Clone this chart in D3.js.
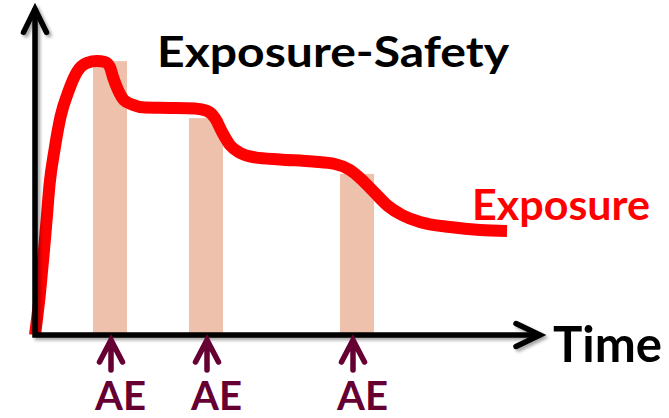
<!DOCTYPE html>
<html>
<head>
<meta charset="utf-8">
<script src="https://cdn.jsdelivr.net/npm/d3@7"></script>
<style>
  html, body { margin: 0; padding: 0; background: #fff; }
  svg { display: block; }
  text { font-family: Lato, "Open Sans", "DejaVu Sans", sans-serif; font-weight: 700; }
</style>
</head>
<body>
<div id="chart"></div>
<script>
// Exposure profile over time (time units, exposure in % of peak scale)
const exposureTime  = [0, 1, 1.8, 2.4, 2.9, 3.9, 5.1, 6.8, 8.4, 10.4, 12.4, 14, 15, 15.6, 16.6, 17.8, 19.6, 22, 27, 32, 34.4, 36, 37.4, 39, 41, 44, 49, 55.6, 60, 63, 65.4, 68, 70.6, 73.4, 77, 83, 89, 94.4];
const exposureLevel = [0, 14, 28.3, 40, 50, 61.7, 72.7, 81.7, 87.7, 90.7, 91.3, 91, 89.3, 86, 81.7, 78.3, 76.7, 75.8, 75.7, 75.5, 74.7, 72.3, 67.7, 63.3, 60.7, 59.2, 58.5, 57.8, 57, 55, 51.7, 47.3, 43, 40, 37.7, 36, 35, 34.7];

// Exposure windows around each adverse event
const windowStart  = [11.6, 30.8, 61];
const windowEnd    = [18.4, 37.6, 67.8];
const windowHeight = [91.3, 72.3, 53.7];

// Adverse event times
const aeTimes  = [15.2, 34.4, 63.6];
const aeLabels = ["AE", "AE", "AE"];

// Axis extents (arrow tips)
const xAxisEnd = 101;
const yAxisEnd = 108.7;

const W = 669, H = 418;

const x = d3.scaleLinear().domain([0, 100]).range([35, 535]);
const y = d3.scaleLinear().domain([0, 100]).range([335, 35]);

const svg = d3.select("#chart").append("svg")
  .attr("width", W).attr("height", H)
  .attr("viewBox", `0 0 ${W} ${H}`);

const defs = svg.append("defs");
const shadow = defs.append("filter").attr("id", "axisShadow")
  .attr("x", "-20%").attr("y", "-20%").attr("width", "140%").attr("height", "140%");
shadow.append("feDropShadow")
  .attr("dx", 2.5).attr("dy", 2.5).attr("stdDeviation", 1.6)
  .attr("flood-color", "#000").attr("flood-opacity", 0.35);

// Exposure windows
svg.append("g").selectAll("rect")
  .data(windowStart.map((s, i) => ({ s, e: windowEnd[i], h: windowHeight[i] })))
  .join("rect")
  .attr("x", d => x(d.s))
  .attr("width", d => x(d.e) - x(d.s))
  .attr("y", d => y(d.h))
  .attr("height", d => y(0) - y(d.h))
  .attr("fill", "#EEC1AD");

// Exposure curve
const line = d3.line()
  .x(d => x(d[0]))
  .y(d => y(d[1]))
  .curve(d3.curveMonotoneX);

svg.append("path")
  .datum(exposureTime.map((t, i) => [t, exposureLevel[i]]))
  .attr("d", line)
  .attr("fill", "none")
  .attr("stroke", "#FF0000")
  .attr("stroke-width", 12)
  .attr("stroke-linecap", "butt")
  .attr("stroke-linejoin", "round");

// Axes with arrow heads
const axes = svg.append("g")
  .attr("filter", "url(#axisShadow)")
  .attr("stroke", "#000")
  .attr("fill", "none")
  .attr("stroke-width", 5.5);

const x0 = x(0), y0 = y(0);
const xTip = x(xAxisEnd), yTip = y(yAxisEnd);

axes.append("path")
  .attr("d", `M${x0},${yTip + 2} L${x0},${y0} L${xTip - 2},${y0}`)
  .attr("stroke-linecap", "square")
  .attr("stroke-linejoin", "miter");

axes.append("path")
  .attr("d", `M${x0 - 11.5},${yTip + 23.5} L${x0},${yTip} L${x0 + 11.5},${yTip + 23.5}`)
  .attr("stroke-linecap", "round")
  .attr("stroke-linejoin", "miter");

axes.append("path")
  .attr("d", `M${xTip - 24},${y0 - 11.5} L${xTip},${y0} L${xTip - 24},${y0 + 11.5}`)
  .attr("stroke-linecap", "round")
  .attr("stroke-linejoin", "miter");

// Adverse event markers
const ae = svg.append("g").selectAll("g")
  .data(aeTimes.map((t, i) => ({ t, label: aeLabels[i] })))
  .join("g");

ae.append("path")
  .attr("d", d => {
    const cx = x(d.t), tip = y0 + 5;
    return `M${cx},${tip + 2} L${cx},${tip + 30} M${cx - 11.5},${tip + 22} L${cx},${tip} L${cx + 11.5},${tip + 22}`;
  })
  .attr("fill", "none")
  .attr("stroke", "#660033")
  .attr("stroke-width", 5.5)
  .attr("stroke-linecap", "round")
  .attr("stroke-linejoin", "miter");

ae.append("text")
  .attr("x", d => x(d.t) - 16)
  .attr("y", 409.5)
  .attr("font-size", 41)
  .attr("fill", "#660033")
  .attr("textLength", 51)
  .attr("lengthAdjust", "spacingAndGlyphs")
  .text(d => d.label);

// Labels
svg.append("text")
  .attr("x", 157).attr("y", 67)
  .attr("font-size", 42)
  .attr("fill", "#000")
  .attr("textLength", 352)
  .attr("lengthAdjust", "spacingAndGlyphs")
  .text("Exposure-Safety");

svg.append("text")
  .attr("x", 472).attr("y", 220)
  .attr("font-size", 42)
  .attr("fill", "#FF0000")
  .attr("textLength", 178)
  .attr("lengthAdjust", "spacingAndGlyphs")
  .text("Exposure");

svg.append("text")
  .attr("x", 553).attr("y", 362)
  .attr("font-size", 50)
  .attr("fill", "#000")
  .attr("textLength", 109)
  .attr("lengthAdjust", "spacingAndGlyphs")
  .text("Time");
</script>
</body>
</html>
